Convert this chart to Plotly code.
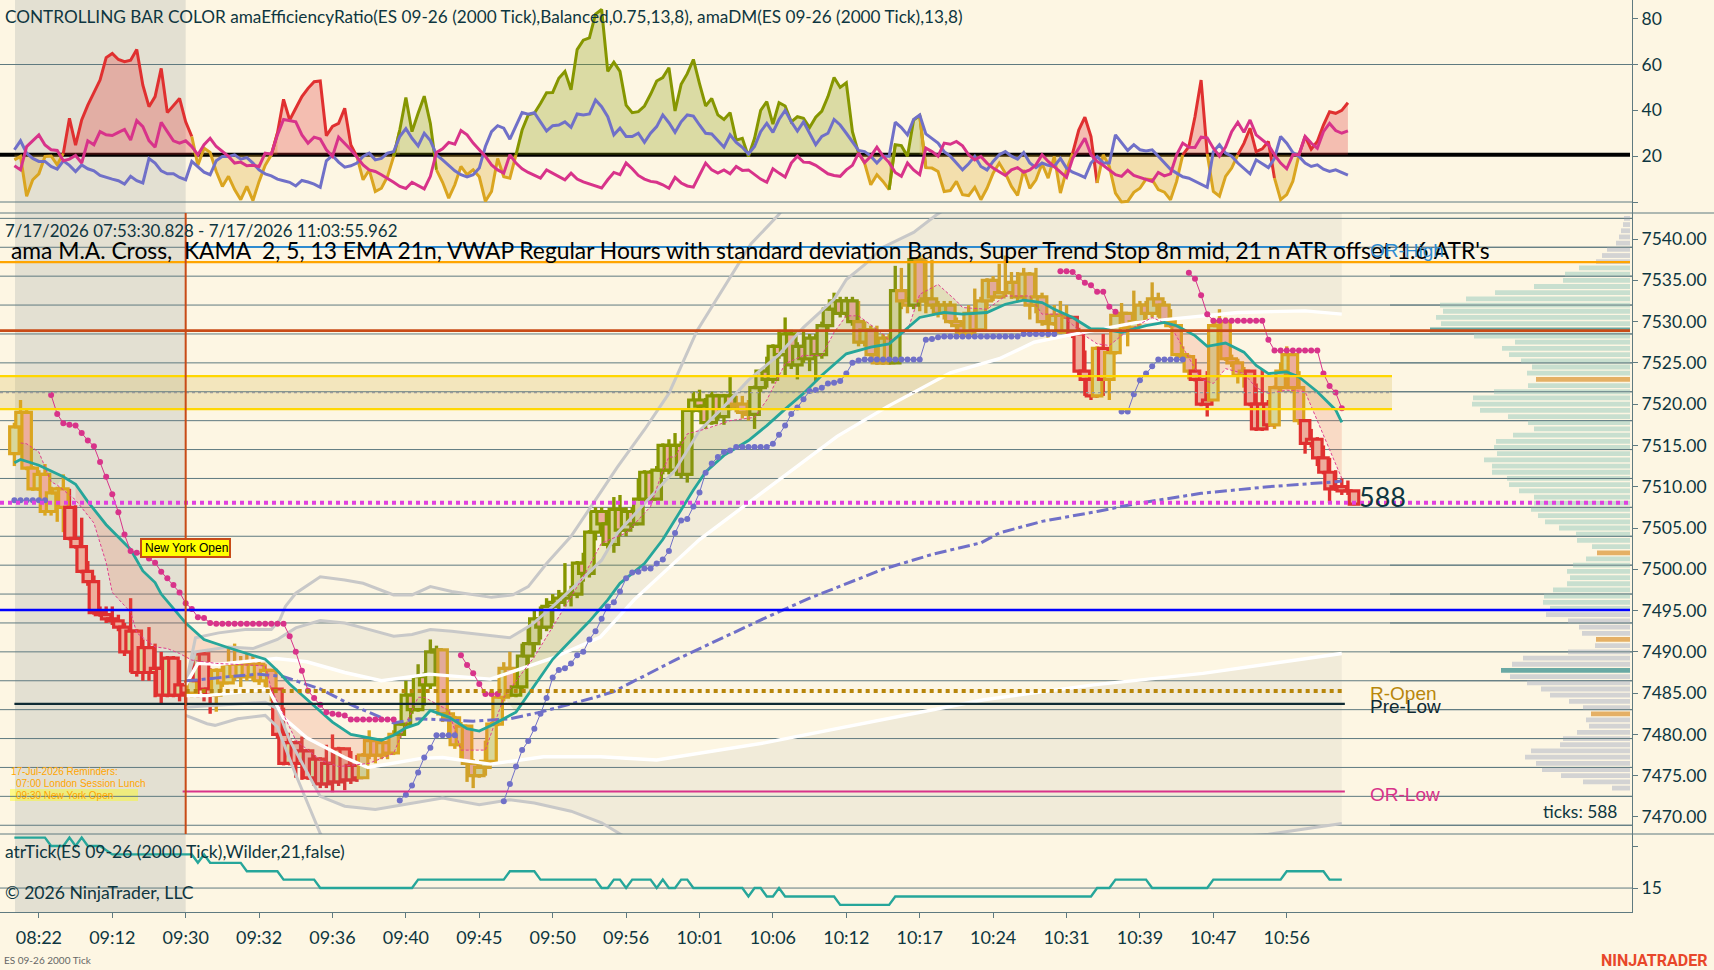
import plotly.graph_objects as go

# bar positions on the time axis
TICK_POS = [4, 16, 28, 40, 52, 64, 76, 88, 100, 112, 124, 136, 148, 160, 172, 184, 196, 208]
TICK_LABELS = ["08:22", "09:12", "09:30", "09:32", "09:36", "09:40", "09:45", "09:50", "09:56",
               "10:01", "10:06", "10:12", "10:17", "10:24", "10:31", "10:39", "10:47", "10:56"]

# candles
CLOSE = [7517.25, 7519, 7512.25, 7509.75, 7511.5, 7507, 7509.25, 7509.75, 7507.5, 7503.75,
         7502.75, 7499.75, 7498.5, 7494.75, 7494.5, 7494, 7493.75, 7493, 7490, 7492.5,
         7487.5, 7490.5, 7487.5, 7488, 7484.75, 7489.25, 7484.75, 7486, 7485, 7486.5,
         7489.75, 7485.5, 7484.75, 7487.75, 7486.25, 7488.5, 7487, 7488.5, 7487, 7488.5,
         7486.5, 7487.75, 7485.5, 7480, 7476.5, 7479, 7476.5, 7478, 7474.75, 7477,
         7474, 7476.5, 7474.25, 7478.25, 7474.5, 7476.25, 7474.75, 7477.5, 7479.25, 7477.5,
         7479, 7477.75, 7480, 7481.25, 7484.75, 7483, 7487, 7486, 7490, 7490.25,
         7482.5, 7482, 7478.75, 7481, 7476.5, 7475, 7476, 7476.75, 7481.25, 7484.5,
         7488, 7484.75, 7485.75, 7489.5, 7491, 7494, 7493, 7495.5, 7496, 7496.5,
         7497, 7497, 7500.75, 7499.5, 7504.5, 7507, 7505.5, 7503, 7507.25, 7504.75,
         7507, 7505.5, 7508.5, 7511.75, 7508.5, 7512, 7515, 7512, 7515, 7511.5,
         7519.25, 7520.5, 7519.75, 7517.75, 7521, 7518.5, 7521, 7519.75, 7520, 7519,
         7518.75, 7522, 7524, 7523, 7527, 7526, 7528.5, 7524.75, 7527, 7525.5,
         7528, 7526, 7529.5, 7531.5, 7532.5, 7531, 7532.5, 7530, 7527.5, 7529,
         7526, 7525, 7528, 7525, 7533.75, 7532.5, 7532, 7537.5, 7532.5, 7532.75,
         7532, 7531, 7532, 7530, 7529.5, 7528.5, 7531, 7529, 7532.5, 7535,
         7533, 7533.5, 7533.5, 7534.75, 7533, 7535.75, 7532, 7533, 7530, 7529.75,
         7530.75, 7528.75, 7530.5, 7528.5, 7524, 7523, 7521, 7526.75, 7523, 7526.25,
         7530.75, 7531, 7529.25, 7530, 7532, 7531, 7532.75, 7532, 7530, 7529.5,
         7526, 7525.75, 7524, 7523, 7520, 7520.5, 7529.5, 7530, 7525.5, 7525,
         7523.5, 7524, 7520, 7517, 7520, 7517.5, 7522, 7524, 7526, 7522,
         7518, 7515.25, 7515.75, 7513.5, 7511.75, 7509.75, 7510, 7509.5, 7509.5, 7507.9]
HIGH = [7517.75, 7520.5, 7519.5, 7512.5, 7512, 7512.75, 7510, 7510, 7511.5, 7509.75,
        7507.75, 7506.25, 7501, 7499.25, 7495.5, 7495.5, 7495.5, 7494.5, 7493.5, 7496.5,
        7492.75, 7491.5, 7493, 7491, 7490, 7489.5, 7489.5, 7489, 7486.5, 7487.5,
        7490, 7490, 7488, 7488, 7488.5, 7490.5, 7491, 7489.5, 7489.75, 7489.5,
        7489, 7488.5, 7487.75, 7485.5, 7483.25, 7479.5, 7479.25, 7479.75, 7478.25, 7477.5,
        7477.25, 7478.75, 7480, 7478.5, 7478.25, 7478, 7477.5, 7477.75, 7480.5, 7479.5,
        7479.5, 7479.25, 7480.5, 7481.5, 7486.5, 7485, 7488.5, 7487.5, 7491.5, 7490.75,
        7490.25, 7483, 7482.25, 7481.5, 7481, 7477, 7476.5, 7479.25, 7481.5, 7485,
        7488.75, 7490, 7488, 7491, 7493, 7495, 7495.5, 7496.5, 7497, 7497.5,
        7500.75, 7498, 7501, 7502, 7504.75, 7507.5, 7507.5, 7507, 7508.75, 7509,
        7507.5, 7507.5, 7511, 7512, 7512, 7512.5, 7515.25, 7515.75, 7516.5, 7515.5,
        7519.5, 7521.5, 7521.75, 7520.75, 7521.5, 7521.25, 7521.25, 7523.5, 7521, 7521,
        7520.5, 7522.25, 7524.25, 7525.75, 7527.25, 7529, 7530.5, 7529, 7527.5, 7529,
        7528.5, 7528.5, 7530, 7531.75, 7533.5, 7533, 7533, 7533, 7532.5, 7530,
        7529.5, 7529.5, 7528.5, 7528.5, 7536.75, 7536.5, 7533, 7537.75, 7538, 7537.5,
        7537.5, 7532.5, 7532.5, 7532.5, 7530.5, 7530, 7532, 7534, 7533, 7535.25,
        7535.5, 7537, 7538, 7536, 7536, 7536.5, 7536, 7536.5, 7533.5, 7530.75,
        7532, 7532.5, 7532, 7530.5, 7529.25, 7526.5, 7524, 7527, 7528.5, 7526.5,
        7531, 7532.25, 7531, 7533.75, 7532.5, 7532.5, 7534.75, 7533.5, 7532.5, 7531.5,
        7529.5, 7527, 7526, 7525.5, 7523, 7524, 7530, 7531.5, 7530.5, 7526,
        7525.5, 7524.5, 7524, 7522.5, 7524.25, 7520.5, 7522.25, 7525, 7527, 7526.5,
        7524, 7518, 7517, 7516, 7515, 7513.5, 7512, 7511, 7510.75, 7509.5]
LOW = [7512.5, 7514, 7512, 7509.5, 7509.5, 7506.5, 7506.5, 7505.75, 7504.5, 7503.5,
       7502.5, 7499.5, 7498, 7494.5, 7494.25, 7493.5, 7493.25, 7492.5, 7489.5, 7487.5,
       7487, 7486.5, 7486.5, 7484.5, 7483.75, 7484.5, 7484.5, 7484, 7483, 7484.5,
       7484.5, 7484, 7482.5, 7482.75, 7485.75, 7486.25, 7486.5, 7485.75, 7486.5, 7486.5,
       7486, 7485.75, 7484, 7479.5, 7476.25, 7476.25, 7474.75, 7474.5, 7474.5, 7473.75,
       7473.5, 7473.5, 7473, 7473.75, 7473.25, 7474, 7474.25, 7474.75, 7477, 7476.5,
       7477, 7477, 7477.5, 7479.5, 7481, 7482.5, 7482.75, 7483.5, 7485.5, 7487,
       7481.5, 7479.5, 7478.25, 7477, 7474.25, 7473.5, 7474.75, 7475, 7476.5, 7481,
       7484, 7484.5, 7484.5, 7485.5, 7488.5, 7490, 7491.5, 7492.5, 7493.5, 7495,
       7495.5, 7495.5, 7496.5, 7498.5, 7499, 7503.5, 7504, 7502.5, 7502, 7504,
       7504, 7505, 7505.5, 7508, 7508, 7508.5, 7511.5, 7511.5, 7511.75, 7511,
       7510.5, 7519, 7519, 7517, 7517.5, 7518, 7517.5, 7519.25, 7519, 7518.25,
       7518, 7517, 7521.5, 7522, 7522.5, 7525.5, 7523.5, 7524.25, 7523, 7525,
       7524, 7522.75, 7525.5, 7529, 7531, 7530.5, 7530.5, 7529.5, 7527, 7527,
       7525.75, 7524.75, 7524.75, 7524.75, 7525, 7531.5, 7531, 7531.5, 7531.25, 7531,
       7531.5, 7530.5, 7530.25, 7529.75, 7528.5, 7528, 7528.25, 7528.5, 7528.75, 7531.5,
       7532.5, 7532.75, 7533, 7532.75, 7532.5, 7532.5, 7530.25, 7531, 7529.5, 7528,
       7529.5, 7528.5, 7528.5, 7528, 7523.5, 7521, 7520.5, 7520.75, 7521, 7520.5,
       7526, 7530, 7527, 7529, 7529.5, 7530.25, 7530.5, 7530.5, 7529.75, 7529.25,
       7525.75, 7525.5, 7523, 7522.75, 7519.75, 7518.5, 7522.5, 7529, 7525.25, 7524.5,
       7522.5, 7522, 7519.75, 7516.75, 7516.75, 7517.25, 7517, 7521.5, 7523.5, 7521.5,
       7517.5, 7514, 7514.75, 7512.5, 7511.5, 7508, 7509.5, 7509, 7509, 7507.75]
FIRST_OPEN = 7514

# (first bar, last bar, controlling colour)
BAR_RUNS = [(0, 8, "g"), (9, 28, "r"), (29, 29, "g"), (30, 32, "r"), (33, 42, "g"), (43, 56, "r"),
            (57, 62, "g"), (63, 69, "o"), (70, 81, "g"), (82, 117, "o"), (118, 120, "g"),
            (121, 137, "o"), (138, 143, "g"), (144, 144, "o"), (145, 146, "g"), (147, 147, "o"),
            (148, 172, "g"), (173, 176, "r"), (177, 177, "g"), (178, 178, "r"), (179, 192, "g"),
            (193, 195, "r"), (196, 201, "g"), (202, 205, "r"), (206, 210, "g"), (211, 219, "r")]

# amaEfficiencyRatio
ER = [18.4, 19.9, 2.5, 9.7, 12.3, 19.9, 20.1, 16.2, 21.3, 36.5, 24.8, 35.8, 42.3, 47.4, 53.2, 63, 64.8, 62.2, 61.2, 61.9,
      66.5, 51, 41.6, 46, 58.3, 39, 42.3, 45.2, 35, 28.6, 16, 23.5, 21.6, 13.3, 6.8, 11.2, 5.4, 1, 6.8, 0.6,
      9, 16, 20.6, 30, 44.8, 35.8, 40.9, 46, 49.6, 52.5, 52.8, 28.9, 33, 34.3, 40.9, 24.9, 19.8, 9.7, 14, 4.6,
      6, 11.2, 19.9, 31.4, 45.6, 30.7, 38.7, 46.2, 34.3, 14, 8.6, 1.7, 7.5, 15.5, 11.9, 14, 11, 0.3, 4.6, 19,
      11, 10.4, 20.6, 31.4, 38, 38.7, 43, 47.7, 47.8, 54, 57, 49, 66.5, 70.6, 71.6, 82, 84, 57, 61, 57,
      42.3, 39, 39.4, 41.9, 47, 52.8, 54.3, 58.6, 39.7, 51.4, 56, 62.2, 51.7, 41.9, 45.2, 38, 36, 39, 27, 27.8,
      19.9, 27.8, 40, 43.8, 34, 43.3, 41.9, 35, 37.2, 36.5, 32.5, 37, 39.7, 46, 54.3, 50, 52, 30.7, 21.3, 16.9,
      7.5, 11.9, 9, 5.4, 25, 24.6, 20, 35.8, 37.7, 15, 14.8, 13.3, 4.6, 5, 9, 3.2, 2.8, 6.4, 1, 6,
      12.6, 17, 12.6, 6.8, 2.9, 14, 6, 9.7, 16.7, 10.4, 19.9, 3.9, 14, 21.3, 31.4, 37, 28.6, 8.3, 20.6, 15.5,
      3.9, 0, 0.3, 4.2, 6, 10, 9.7, 5.4, 4.3, 1, 9, 20.6, 24.2, 37.2, 53.2, 21, 4.6, 2.5, 11.2, 14.8,
      20.6, 25.6, 32.2, 22, 23.2, 26.4, 10.4, 1, 3.2, 9, 20.6, 28.6, 23, 26.4, 33.6, 39.4, 38.7, 40, 43.3]
ER_RUNS = [(0, 8, "g"), (8, 29, "r"), (29, 43, "g"), (42, 56, "r"), (56, 63, "g"), (62, 69, "o"), (69, 82, "g"),
           (82, 138, "o"), (138, 144, "g"), (143, 149, "o"), (148, 173, "g"), (173, 177, "r"), (177, 191, "g"),
           (191, 195, "r"), (195, 200, "g"), (200, 206, "r"), (206, 210, "g"), (210, 218, "r")]
ER_LEVEL = 20.6

# amaDM
DM_PLUS = [22.8, 26.7, 21.3, 19, 17.7, 17.7, 15.5, 14.3, 18, 16, 13.3, 16.2, 14.5, 13.6, 11.6, 10.7, 10, 9.3, 7.8, 11.2,
           9.3, 8.3, 19, 17, 13.6, 12.3, 12.3, 10.7, 9.7, 17.7, 15.5, 13, 11.9, 18, 19.9, 19.9, 20.6, 18.7, 19.4, 17,
           14, 12.3, 11.4, 10, 9.3, 8.6, 7, 9.4, 8.7, 7.8, 6.4, 18, 20.3, 17.4, 15.2, 15.8, 17, 19.9, 21.3, 18.4,
           19, 21.3, 22, 28.6, 32, 27.8, 24.5, 30, 26.8, 20.6, 18.4, 16, 13.6, 11.9, 10.9, 11.9, 14.8, 24.2, 30.7, 33.3,
           32.2, 27.4, 32.9, 39, 38.3, 39, 35, 31, 33.3, 33.6, 35, 32.6, 38.4, 38, 38.4, 44.5, 41.6, 37.2, 29.3, 32.2,
           28.6, 28.6, 30, 26, 30, 32.9, 38, 34.6, 30.4, 35, 38, 37.5, 33.6, 30, 29.7, 27, 23.9, 29.3, 26, 23.9,
           21, 24.2, 30.7, 34.3, 30.4, 36, 40, 35, 31, 35, 30, 25, 28.6, 30, 36, 33.6, 30, 26.4, 22.5, 22,
           20, 17, 20, 20, 34.8, 32.5, 29.3, 36, 38, 29.7, 27.8, 25.7, 22, 20, 17, 14, 16.7, 19.9, 15.5, 14,
           17.7, 20.6, 22, 20, 18.7, 21.6, 17, 15, 17, 16, 15.5, 19, 14.8, 13, 11.9, 10.7, 17, 19.9, 17, 17,
           29.3, 25.7, 22.5, 25, 22.8, 22.3, 22.8, 20, 17, 14.3, 12.6, 11, 10.4, 9, 7.5, 6.4, 22, 25, 21.3, 20,
           17, 14.8, 12.3, 18.4, 16.5, 15, 19, 28.6, 25.7, 21.6, 19.9, 17, 15.5, 16.2, 14.3, 13.3, 14, 13, 11.7]
DM_MINUS = [15.8, 14, 24.2, 26.8, 29.3, 24.9, 22.8, 22.5, 18, 18.7, 20.3, 17, 26.7, 25, 30.7, 29.3, 29, 30.4, 31.7, 27,
            35.5, 32.9, 26.8, 23.9, 34.8, 30.7, 26.7, 25.7, 26.7, 24.2, 20.6, 25, 27.8, 24.2, 22, 19.9, 17, 17.4, 15.8, 16,
            15.5, 21.3, 20.9, 29.3, 36, 35.4, 35, 29.3, 25.7, 28.3, 27.5, 22.8, 19.9, 28.3, 25.7, 22.8, 19.6, 16.2, 14, 13.3,
            11.9, 10.4, 8.6, 6.8, 5.9, 8.6, 7.2, 5.7, 11.2, 21.6, 23.2, 26, 25.2, 31.2, 29.3, 25.7, 22.8, 19.9, 16.2, 14,
            12.6, 20.6, 17, 14.5, 12.9, 11.6, 10.4, 14, 12.6, 11.2, 9.7, 12.6, 10, 8.8, 8, 7.1, 6.1, 9.7, 12.9, 11.9,
            17, 14.5, 11.6, 10, 9, 8.6, 7.5, 6, 10.7, 8.3, 7, 6.5, 11.9, 17, 14, 12.6, 14, 12.3, 15.5, 13.8,
            14, 11.9, 10, 8.6, 14.5, 12.6, 10.9, 17, 20, 17.4, 17.2, 16, 14, 12.3, 11.6, 11.2, 14, 16, 21.3, 17.2,
            19.9, 23.9, 20, 17.2, 12.9, 11.2, 17, 14, 11.9, 23.5, 22, 20, 25.7, 25.2, 26.4, 24.5, 20.6, 18.4, 19.9, 17,
            14.8, 13.3, 11.6, 14, 15, 13, 14, 16.2, 20.6, 17.7, 15.5, 13, 10.7, 19, 23.5, 27.8, 20.6, 17.7, 16, 14,
            11.9, 11.2, 13.8, 11.6, 10.7, 9.7, 9, 12.9, 11.4, 12.3, 20.6, 25.7, 23.9, 23.8, 28.3, 28, 23.5, 20, 24, 30.7,
            34.8, 30.4, 35.8, 29.3, 27, 25, 20.6, 17, 14.5, 20.6, 20.6, 28.6, 25.7, 23.5, 30.7, 34.3, 31.2, 30, 31]

# atrTick
ATR_X = [0, 5, 6, 8, 9, 10, 11, 12, 14, 16, 29, 30, 31, 32, 37, 38, 43, 44, 49, 50, 65, 66, 80, 81, 85, 86, 95, 96, 97,
         98, 99, 100, 101, 104, 105, 106, 107, 108, 109, 110, 111, 119, 120, 121, 122, 123, 124, 125, 126, 134, 135,
         143, 144, 176, 177, 179, 180, 185, 186, 195, 196, 207, 208, 214, 215, 217]
ATR_Y = [16.2, 16.2, 16, 16, 16.2, 16, 16.2, 16, 16, 15.8, 15.8, 15.6, 15.8, 15.6, 15.6, 15.4, 15.4, 15.2, 15.2, 15, 15, 15.2,
         15.2, 15.4, 15.4, 15.2, 15.2, 15, 15, 15.2, 15.2, 15, 15.2, 15.2, 15, 15.2, 15, 15, 15.2, 15.2, 15, 15, 14.8, 15, 15,
         14.8, 14.8, 15, 14.8, 14.8, 14.6, 14.6, 14.8, 14.8, 15, 15, 15.2, 15.2, 15, 15, 15.2, 15.2, 15.4, 15.4, 15.2, 15.2]

# EMA 21
EMA_X = [0, 1, 4, 8, 10, 12, 15, 19, 21, 23, 24, 28, 31, 35, 41, 43, 45, 48, 52, 55, 60, 62, 64, 66, 68, 71, 74, 76, 78, 82, 85,
         88, 91, 94, 97, 99, 103, 106, 108, 111, 113, 116, 120, 123, 126, 129, 132, 136, 140, 143, 148, 152, 155, 159,
         162, 165, 168, 170, 173, 176, 178, 181, 185, 188, 190, 193, 195, 198, 201, 203, 205, 208, 210, 213, 216, 217]
EMA_Y = [7512.9, 7513.3, 7512.6, 7511.2, 7510.3, 7508.2, 7505.4, 7502.4, 7499.8, 7498.4, 7497, 7493.5, 7491.5, 7490.5, 7489.1,
         7487.7, 7486.1, 7484.1, 7481.5, 7480, 7479.3, 7479.9, 7480.8, 7481.3, 7482.9, 7482.1, 7480.7, 7480.4, 7481.1,
         7482.7, 7485.9, 7489.1, 7491.4, 7493.7, 7496.3, 7498.3, 7500.7, 7503.6, 7506, 7509.6, 7511.8, 7513.8, 7515.6,
         7517.4, 7519.4, 7521.3, 7523.5, 7526.1, 7526.9, 7527.3, 7530.5, 7531.1, 7530.9, 7531.1, 7532.1, 7532.6, 7532.3,
         7531.5, 7530.5, 7529.1, 7529.1, 7528.7, 7529.5, 7529.9, 7529.5, 7528.3, 7527, 7527.4, 7526.3, 7524.7, 7523.7,
         7523.9, 7523.3, 7521.5, 7519.3, 7517.8]

# KAMA 2,5,13
KAMA_X = [1, 2, 4, 6, 7, 10, 13, 15, 16, 19, 20, 23, 25, 27, 29, 33, 41, 42, 46, 50, 53, 58, 62, 64, 66, 67, 71, 73, 77, 80, 85,
          93, 96, 100, 104, 106, 107, 108, 110, 113, 117, 121, 123, 126, 129, 132, 134, 136, 138, 142, 143, 146, 148, 151,
          154, 155, 159, 162, 166, 168, 171, 175, 177, 179, 182, 186, 189, 192, 194, 196, 198, 201, 203, 205, 208, 211, 213,
          216, 217]
KAMA_Y = [7515.3, 7515.2, 7514.2, 7510.6, 7510.2, 7508.4, 7505.6, 7500.8, 7497.2, 7494.8, 7492.3, 7490.6, 7490.4, 7489.8, 7489,
          7488.6, 7488.3, 7485.5, 7479.3, 7476.9, 7476.1, 7476.5, 7477.7, 7481.3, 7484.5, 7484.5, 7482.9, 7478.1, 7478.1,
          7484.5, 7489.4, 7499.1, 7503.2, 7504.4, 7507.6, 7512, 7513.6, 7513.6, 7516.4, 7517, 7518, 7518.4, 7520.5, 7524.9,
          7525.9, 7525.9, 7528.7, 7530.7, 7530.7, 7528.5, 7527.7, 7528.9, 7533.3, 7534.5, 7532.5, 7531.7, 7531.5, 7533.1,
          7533.1, 7530.9, 7530.9, 7528.3, 7527.3, 7527.1, 7528.9, 7530.5, 7529.5, 7525.7, 7523, 7522.5, 7524.3, 7523.7,
          7522, 7521.3, 7521.7, 7521.5, 7518, 7512.8, 7511]
# stretches of the EMA/KAMA cloud
CLOUD_RUNS = [(1, 9, "o"), (9, 64, "r"), (64, 71, "o"), (71, 79, "r"), (79, 168, "o"), (168, 217, "r")]

# VWAP and its bands
VWAP_X = [28, 30, 35, 40, 44, 50, 55, 62, 66, 75, 81, 86, 95, 98, 108, 123, 130, 135, 142, 150, 158, 161, 168, 177, 183, 194, 205, 216, 217]
VWAP_Y = [7486.5, 7486.6, 7487, 7487.3, 7487, 7485.5, 7483.6, 7481.4, 7481.9, 7481.6, 7481.9, 7482.7, 7484.5, 7485.2, 7489, 7494.2,
          7496.5, 7498, 7500, 7501.8, 7503.2, 7504.4, 7505.8, 7507, 7507.9, 7509.2, 7510, 7510.6, 7510.7]
U3_X = [28, 29.6, 33.4, 37.7, 42, 43.4, 44.3, 46, 50, 54, 57, 62, 65, 68, 71.5, 78, 81.5, 84, 87, 91, 95, 98.6, 103, 107, 111.6, 117, 120.4, 125, 127]
U3_Y = [7486, 7491.7, 7492.3, 7492.7, 7492.7, 7493.9, 7495.5, 7497.1, 7499.1, 7498.7, 7498.3, 7496.9, 7496.9, 7497.9, 7497.3, 7496.6, 7496.9,
        7497.9, 7500.7, 7504, 7508.4, 7512.4, 7516.9, 7521.3, 7528.9, 7535.3, 7539.4, 7543, 7545]
U2_X = [28, 29.6, 35, 39, 43, 46, 50, 54, 57, 62, 65, 68, 71.5, 78, 81, 84.6, 88, 91.5, 96, 98.6, 104, 108, 112, 116, 120, 125, 129, 134, 136, 139, 142, 147, 150.7, 153, 170, 217]
U2_Y = [7486, 7490, 7490.6, 7490.4, 7491.5, 7492.9, 7493.8, 7493.5, 7492.9, 7491.9, 7492.1, 7492.7, 7492.5, 7491.9, 7491.7, 7493.3, 7495.5, 7497.9, 7501.1,
        7504.4, 7508.8, 7512, 7516.8, 7519.7, 7522.9, 7526, 7529.3, 7532.7, 7535.1, 7536.9, 7539, 7540.8, 7542.9, 7544, 7548, 7552]
U1_X = [28, 30, 33.4, 37.8, 42.8, 47.8, 54, 60, 67.8, 77.8, 82.8, 87.8, 95.8, 101.3, 112, 125.8, 134.5, 142.7, 153, 161, 166.7, 172, 178, 183.5, 189, 194, 200, 205.6, 211, 217]
U1_Y = [7486, 7488.6, 7488.5, 7488.8, 7489.2, 7488.8, 7487.5, 7486.5, 7487.3, 7486.7, 7487.9, 7489.2, 7491.8, 7496.3, 7503.6, 7511.2, 7516.1, 7519.7, 7523.8,
        7525.5, 7527.5, 7528.3, 7529.1, 7529.9, 7530.3, 7530.7, 7531.1, 7531.2, 7531.3, 7530.9]
L1_X = [28, 31.5, 36.5, 41.5, 44, 47.8, 54, 57.8, 66.5, 70, 77.8, 86.5, 95.8, 105, 122.8, 140.7, 158.5, 176.4, 194.3, 217]
L1_Y = [7484.7, 7484.7, 7485.1, 7485.5, 7482, 7479.6, 7477.2, 7476, 7477.1, 7477.2, 7476.4, 7477.3, 7477.3, 7476.9, 7479, 7481.6, 7484.2, 7486, 7487.4, 7489.8]
L2_X = [28, 32.8, 41, 43, 45, 50, 54, 59, 65, 70, 76, 81, 85, 91, 96, 100, 130, 170, 205, 217]
L2_Y = [7483.3, 7483.5, 7483.9, 7483.1, 7479.3, 7472.5, 7471.3, 7470.9, 7471.7, 7472.3, 7471.5, 7472.1, 7471.7, 7470.7, 7469.3, 7467.5, 7464, 7466, 7467.9, 7469.2]
L3_X = [28, 31.5, 32.8, 36.5, 41, 43, 45.9, 50, 52]
L3_Y = [7482.3, 7481.3, 7481.1, 7481.9, 7482.3, 7480.9, 7475.3, 7468, 7466]

# super trend stops, None breaks the line
STOP_DOWN_X = list(range(6, 63)) + [None] + list(range(73, 80)) + [None] + list(range(171, 181)) + [None] + list(range(192, 218))
STOP_DOWN_Y = [7521.1, 7518.8, 7517.7, 7517.5, 7517.4, 7516.5, 7515.6, 7514.9, 7513, 7511.2,
               7509.1, 7506.9, 7504.2, 7502.2, 7502, 7501.8, 7501.3, 7500.8, 7499.7, 7498.9,
               7498.1, 7497.2, 7495.9, 7495.2, 7494.2, 7494.1, 7493.5, 7493.4, 7493.4, 7493.4,
               7493.4, 7493.4, 7493.4, 7493.4, 7493.4, 7493.4, 7493.4, 7493.4, 7493.4, 7491.9,
               7490, 7487.7, 7485.3, 7484.4, 7483.6, 7482.7, 7482.5, 7482.4, 7482.3, 7481.8,
               7481.8, 7481.8, 7481.8, 7481.8, 7481.8, 7481.8, 7481.8, None,
               7489.6, 7488.4, 7487.4, 7486.1, 7484.9, 7484.9, 7484.9, None,
               7536.1, 7536.1, 7536, 7535.4, 7534.7, 7534.4, 7533.6, 7533.6, 7531.8, 7531.2, None,
               7535.9, 7535.2, 7533.2, 7530.9, 7530.1, 7530.1, 7530.1, 7530.1, 7530.1, 7530.1,
               7530.1, 7530.1, 7530.1, 7527.8, 7526.5, 7526.5, 7526.5, 7526.5, 7526.5, 7526.5,
               7526.5, 7526.5, 7523.7, 7522.2, 7521.4, 7519.5]
STOP_UP_X = list(range(0, 6)) + [None] + list(range(63, 73)) + [None] + list(range(80, 171)) + [None] + list(range(181, 192))
STOP_UP_Y = [7508.35, 7508.35, 7508.35, 7508.35, 7508.35, 7508.35, None,
             7472, 7472.7, 7473.8, 7475.4, 7477.2, 7478.4, 7479.9, 7479.9, 7479.9, 7479.9, None,
             7471.9, 7474, 7476.1, 7478.1, 7479.2, 7480.7, 7482.5, 7484.4, 7486.9, 7487.8,
             7488, 7488.6, 7489.6, 7490, 7491.5, 7492.5, 7494, 7495.5, 7496, 7497.3,
             7498.9, 7499.6, 7499.7, 7500.1, 7500.1, 7500.7, 7501.2, 7502.2, 7504.4, 7505.9,
             7506.1, 7507.6, 7509.3, 7511.7, 7512.8, 7513.6, 7514.2, 7514.4, 7514.8, 7514.8,
             7514.8, 7514.8, 7514.8, 7514.8, 7515.2, 7516.3, 7517.4, 7518.8, 7519.6, 7520.6,
             7521.6, 7521.7, 7522, 7522.5, 7522.6, 7522.8, 7523.7, 7525, 7525.3, 7525.4,
             7525.4, 7525.4, 7525.4, 7525.4, 7525.4, 7525.4, 7525.4, 7525.4, 7525.4, 7527.8,
             7527.9, 7528.1, 7528.2, 7528.2, 7528.2, 7528.2, 7528.2, 7528.2, 7528.2, 7528.2,
             7528.2, 7528.2, 7528.2, 7528.2, 7528.2, 7528.5, 7528.5, 7528.5, 7528.5, 7528.5,
             7528.5, None,
             7519.1, 7519.1, 7521.2, 7522.9, 7523.7, 7524.6, 7525.4, 7525.4, 7525.4, 7525.4, 7525.4]

# volume profile
PROFILE_PRICE = [7542.5, 7541.75, 7541, 7540.25, 7539.5, 7538.75, 7538, 7537.25, 7536.5, 7535.75, 7535, 7534.25, 7533.5,
                 7532.75, 7532, 7531.25, 7530.5, 7529.75, 7529, 7528.25, 7527.5, 7526.75, 7526, 7525.25, 7524.5, 7523.75,
                 7523, 7522.25, 7521.5, 7520.75, 7520, 7519.25, 7518.5, 7517.75, 7517, 7516.25, 7515.5, 7514.75, 7514,
                 7513.25, 7512.5, 7511.75, 7511, 7510.25, 7509.5, 7508.75, 7508, 7507.25, 7506.5, 7505.75, 7505, 7504.25,
                 7503.5, 7502.75, 7502, 7501.25, 7500.5, 7499.75, 7499, 7498.25, 7497.5, 7496.75, 7496, 7495.25, 7494.5,
                 7493.75, 7493, 7492.25, 7491.5, 7490.75, 7490, 7489.25, 7488.5, 7487.75, 7487, 7486.25, 7485.5, 7484.75,
                 7484, 7483.25, 7482.5, 7481.75, 7481, 7480.25, 7479.5, 7478.75, 7478, 7477.25, 7476.5, 7475.75, 7475,
                 7474.25, 7473.5]
PROFILE_VOL = [18, 21, 27, 33, 42, 69, 84, 102, 153, 195, 201, 288, 405, 492, 570, 561, 582, 567, 600, 468,
               345, 384, 363, 327, 294, 309, 282, 306, 408, 471, 474, 450, 366, 306, 288, 351, 402, 408, 399, 438,
               414, 414, 369, 363, 333, 288, 288, 297, 276, 255, 213, 162, 159, 114, 99, 132, 171, 189, 180, 189,
               231, 258, 261, 240, 252, 186, 153, 144, 102, 105, 186, 321, 354, 387, 360, 309, 267, 240, 183, 141,
               117, 132, 123, 159, 201, 210, 297, 315, 282, 264, 207, 141, 54]
PROFILE_VALUE_AREA = (8, 63)
PROFILE_HIGHLIGHT = [26, 54, 68, 80]
PROFILE_POC = [18, 73]

# price levels
OR_HIGH = 7539.03
ASIA_HIGH = 7537.2
RED_LEVEL = 7528.9
ZONE_TOP = 7523.4
ZONE_BOTTOM = 7519.4
ZONE_MID = 7521.4
LAST_PRICE = 7508.06
BLUE_LEVEL = 7495.07
R_OPEN = 7485.26
PRE_LOW = 7483.7
OR_LOW = 7473.1
GRID_LEVELS = [7542.5, 7539, 7535.5, 7532, 7528.5, 7525, 7521.5, 7518, 7514.5, 7511, 7507.5, 7504, 7500.5, 7497, 7493.5,
               7490, 7486.5, 7483, 7479.5, 7476, 7472.5, 7469]

BG = "#FDF6E3"
GRID = "#5F7A80"
INK = "#0E3640"
RED = "#E03030"
GOLD = "#DAA520"
OLIVE = "#869600"
BLUE = "#7070C8"
MAGENTA = "#D8338A"
TEAL = "#26A69A"
EDGE = {"r": RED, "g": GOLD, "o": OLIVE}
ER_FILL = {"r": "rgba(224,48,48,0.28)", "g": "rgba(218,165,32,0.28)", "o": "rgba(134,150,0,0.28)"}
CLOUD_FILL = {"r": "rgba(235,110,80,0.2)", "o": "rgba(134,150,0,0.14)"}
BAND_FILL = "rgba(140,140,140,0.1)"

# plot area in window pixels
PLOT_W = 1632
PLOT_H = 912
BAR_PX = 6.117
BAR0_PX = 14.4


def px(x):
    return x / PLOT_W


def py(y):
    return (PLOT_H - y) / PLOT_H


def note(text, x, y, size, color, family="Lato", **kw):
    # annotations carry a small inner padding, hence the -2
    return dict(text=text, x=px(x - 2), y=py(y), xref="paper", yref="paper", xanchor="left", yanchor="middle",
                showarrow=False, font=dict(family=family, size=size, color=color), **kw)


def level(y, x0, x1, color, width, dash="solid", layer="above"):
    return dict(type="line", xref="x", yref="y2", x0=x0, x1=x1, y0=y, y1=y, layer=layer,
                line=dict(color=color, width=width, dash=dash))


def polygon(x1, y1, x2, y2, color, yaxis="y2"):
    return go.Scatter(x=list(x1) + list(x2)[::-1], y=list(y1) + list(y2)[::-1], mode="lines", fill="toself",
                      fillcolor=color, line=dict(width=0), yaxis=yaxis, hoverinfo="skip")


def line(x, y, color, width, yaxis="y2", dash="solid", shape="linear"):
    return go.Scatter(x=x, y=y, mode="lines", line=dict(color=color, width=width, dash=dash, shape=shape),
                      yaxis=yaxis, hoverinfo="skip")


def inside(xs, ys, a, b):
    pts = [(x, y) for x, y in zip(xs, ys) if a <= x <= b]
    return [p[0] for p in pts], [p[1] for p in pts]


fig = go.Figure()

bars = list(range(len(CLOSE)))
opens = [FIRST_OPEN] + CLOSE[:-1]
edges = [None] * len(CLOSE)
for a, b, c in BAR_RUNS:
    for i in range(a, b + 1):
        edges[i] = EDGE[c]
fills = ["#D8D79A" if c >= o else "#EDAE9C" for o, c in zip(opens, CLOSE)]

# profile first, it sits behind everything
right_edge = (1630 - BAR0_PX) / BAR_PX
prof_colors = []
for k in range(len(PROFILE_VOL)):
    if k in PROFILE_POC:
        prof_colors.append("#6AA9A4")
    elif k in PROFILE_HIGHLIGHT:
        prof_colors.append("#E5B065")
    elif PROFILE_VALUE_AREA[0] <= k <= PROFILE_VALUE_AREA[1]:
        prof_colors.append("#C8DFCF")
    else:
        prof_colors.append("#D3D3D3")
fig.add_trace(go.Bar(y=PROFILE_PRICE, x=[-v / (3 * BAR_PX) for v in PROFILE_VOL], base=right_edge, orientation="h",
                     width=0.58, marker=dict(color=prof_colors, line=dict(width=0)), yaxis="y2", hoverinfo="skip"))

# wicks then bodies
fig.add_trace(go.Bar(x=bars, y=[h - l for h, l in zip(HIGH, LOW)], base=LOW, width=0.55,
                     marker=dict(color=edges, line=dict(width=0)), yaxis="y2", hoverinfo="skip"))
fig.add_trace(go.Bar(x=bars, y=[abs(c - o) for o, c in zip(opens, CLOSE)], base=[min(o, c) for o, c in zip(opens, CLOSE)],
                     width=1.55, marker=dict(color=fills, line=dict(color=edges, width=3.2)), yaxis="y2", hoverinfo="skip"))

# top panel
for a, b, c in ER_RUNS:
    xs = bars[a:b + 1]
    ys = ER[a:b + 1]
    fig.add_trace(polygon(xs, ys, xs, [ER_LEVEL] * len(xs), ER_FILL[c], yaxis="y"))
    fig.add_trace(line(xs, ys, EDGE[c], 3, yaxis="y"))
fig.add_trace(line(bars[:len(DM_PLUS)], DM_PLUS, BLUE, 3, yaxis="y"))
fig.add_trace(line(bars[:len(DM_MINUS)], DM_MINUS, MAGENTA, 3, yaxis="y"))

# bands
fig.add_trace(polygon(U1_X, U1_Y, U2_X, U2_Y, BAND_FILL))
fig.add_trace(polygon(L1_X, L1_Y, L2_X, L2_Y, BAND_FILL))

# EMA / KAMA cloud
for a, b, c in CLOUD_RUNS:
    ex, ey = inside(EMA_X, EMA_Y, a, b)
    kx, ky = inside(KAMA_X, KAMA_Y, a, b)
    fig.add_trace(polygon(ex, ey, kx, ky, CLOUD_FILL[c]))

fig.add_trace(line(U3_X, U3_Y, "#C8C8C8", 3))
fig.add_trace(line(U2_X, U2_Y, "#C8C8C8", 3))
fig.add_trace(line(L2_X, L2_Y, "#C8C8C8", 3))
fig.add_trace(line(L3_X, L3_Y, "#C8C8C8", 3))
fig.add_trace(line(U1_X, U1_Y, "#FFFFFF", 3.4))
fig.add_trace(line(L1_X, L1_Y, "#FFFFFF", 3.4))
fig.add_trace(line(VWAP_X, VWAP_Y, BLUE, 3, dash="12px,4px,4px,4px"))
fig.add_trace(line(KAMA_X, KAMA_Y, "#E0408F", 1, dash="3px,2px"))
fig.add_trace(line(EMA_X, EMA_Y, TEAL, 2.8))
fig.add_trace(go.Scatter(x=STOP_DOWN_X, y=STOP_DOWN_Y, mode="lines+markers", line=dict(color=MAGENTA, width=1),
                         marker=dict(color=MAGENTA, size=6), yaxis="y2", hoverinfo="skip"))
fig.add_trace(go.Scatter(x=STOP_UP_X, y=STOP_UP_Y, mode="lines+markers", line=dict(color=BLUE, width=1),
                         marker=dict(color=BLUE, size=6), yaxis="y2", hoverinfo="skip"))

# atr panel
fig.add_trace(line(ATR_X, ATR_Y, TEAL, 2.4, yaxis="y3"))

x_left = -BAR0_PX / BAR_PX
x_right = (PLOT_W - BAR0_PX) / BAR_PX
zone_end = (1392 - BAR0_PX) / BAR_PX
shapes = [
    dict(type="rect", xref="x", yref="paper", x0=0.1, x1=28, y0=0, y1=1, layer="below",
         fillcolor="#E3E0D2", line=dict(width=0)),
    dict(type="rect", xref="x", yref="y2", x0=x_left, x1=zone_end, y0=ZONE_BOTTOM, y1=ZONE_TOP, layer="below",
         fillcolor="rgba(218,190,90,0.27)", line=dict(width=0)),
]
for lv in GRID_LEVELS:
    shapes.append(level(lv, x_left, x_right, GRID, 1, layer="below"))
    shapes.append(level(lv, (1390 - BAR0_PX) / BAR_PX, x_right, GRID, 1))
for v in [60, 0]:
    shapes.append(dict(type="line", xref="x", yref="y", x0=x_left, x1=x_right, y0=v, y1=v, layer="below",
                       line=dict(color=GRID, width=1)))
shapes.append(dict(type="line", xref="x", yref="y", x0=x_left, x1=right_edge, y0=ER_LEVEL, y1=ER_LEVEL, layer="below",
                   line=dict(color="#000000", width=4)))
shapes.append(dict(type="line", xref="x", yref="y3", x0=x_left, x1=x_right, y0=15, y1=15, layer="below",
                   line=dict(color=GRID, width=1)))
for y in [213, 834]:
    shapes.append(dict(type="line", xref="paper", yref="paper", x0=0, x1=1714 / PLOT_W, y0=py(y), y1=py(y),
                       line=dict(color=GRID, width=1)))

shapes += [
    level(OR_HIGH, 28, 217.5, "#2E8BD0", 2.2),
    level(ASIA_HIGH, x_left, right_edge, "#FFA500", 2.2),
    level(RED_LEVEL, x_left, right_edge, "#C84B17", 2.6),
    level(ZONE_TOP, x_left, zone_end, "#FFD700", 2.2),
    level(ZONE_BOTTOM, x_left, zone_end, "#FFD700", 2.2),
    level(ZONE_MID, x_left, zone_end, "#9A9A9A", 1.4, dash="dot"),
    level(LAST_PRICE, x_left, right_edge, "#E040E0", 4, dash="4px,4px"),
    level(BLUE_LEVEL, x_left, right_edge, "#0000FF", 2.4),
    level(R_OPEN, 28, 217.5, "#B8860B", 4, dash="4px,4px"),
    level(PRE_LOW, 0, 217.5, "#0F2A33", 2.2),
    level(OR_LOW, 27.5, 217.5, "#D8338A", 2),
    dict(type="line", xref="x", yref="paper", x0=28, x1=28, y0=py(834), y1=py(213),
         line=dict(color="#C84B17", width=2)),
    dict(type="rect", xref="paper", yref="paper", x0=px(10), x1=px(138), y0=py(801), y1=py(789), layer="below",
         fillcolor="rgba(255,255,0,0.4)", line=dict(width=0)),
    dict(type="rect", xref="paper", yref="paper", x0=px(141), x1=px(230), y0=py(557), y1=py(539),
         fillcolor="#FFFF00", line=dict(color="#C84B17", width=2)),
]

annotations = [
    note("CONTROLLING BAR COLOR amaEfficiencyRatio(ES 09-26 (2000 Tick),Balanced,0.75,13,8), amaDM(ES 09-26 (2000 Tick),13,8)",
         5, 16, 17.2, INK),
    note("7/17/2026 07:53:30.828 - 7/17/2026 11:03:55.962", 5, 231, 16.9, INK),
    note("ama M.A. Cross,  KAMA  2, 5, 13 EMA 21n, VWAP Regular Hours with standard deviation Bands, Super Trend Stop 8n mid, 21 n ATR offset 1.6 ATR's",
         11, 250, 22.8, "#000000"),
    note("atrTick(ES 09-26 (2000 Tick),Wilder,21,false)", 5, 851, 17.5, INK),
    note("© 2026 NinjaTrader, LLC", 5, 892, 17.6, INK),
    note("ES 09-26 2000 Tick", 4, 960, 10, "#666666"),
    note("<b>NINJATRADER</b>", 1601, 960, 16, "#E8472A", family="Roboto"),
    note("ticks: 588", 1543, 811, 17.4, INK),
    note("588", 1359, 497, 27, INK),
    note("OR-High", 1370, 250, 19, "#2E8BD0", family="Liberation Sans"),
    note("R-Open", 1370, 693, 19, "#B8860B", family="Liberation Sans"),
    note("Pre-Low", 1370, 706, 19, "#0F2A33", family="Liberation Sans"),
    note("OR-Low", 1370, 794, 19, "#D8338A", family="Liberation Sans"),
    note("New York Open", 145, 548, 12, "#000000", family="Liberation Sans"),
    note("17-Jul-2026 Reminders:", 11, 771, 10, "#FFA500", family="Liberation Sans"),
    note("07:00 London Session Lunch", 16, 783, 10, "#FFA500", family="Liberation Sans"),
    note("09:30 New York Open", 16, 795, 10, "#FFA500", family="Liberation Sans"),
]

axis_font = dict(family="Lato", size=17.5, color=INK)
fig.update_layout(
    width=1714, height=970, margin=dict(l=0, r=82, t=0, b=58, pad=0),
    paper_bgcolor=BG, plot_bgcolor=BG, showlegend=False, barmode="overlay", hovermode=False,
    shapes=shapes, annotations=annotations,
    xaxis=dict(range=[x_left, x_right], anchor="y3", tickmode="array", tickvals=TICK_POS, ticktext=TICK_LABELS,
               ticks="outside", ticklen=5, tickcolor=GRID, tickfont=dict(family="Lato", size=18, color=INK),
               ticklabelstandoff=4, showgrid=False, zeroline=False, showline=True, linecolor=GRID, linewidth=1),
    yaxis=dict(domain=[py(213), 1], range=[-4.8, 88.15], anchor="x", side="right", tickmode="array",
               tickvals=[0, 20, 40, 60, 80], ticktext=["", "20", "40", "60", "80"], ticks="outside", ticklen=5,
               tickcolor=GRID, tickfont=axis_font, showgrid=False, zeroline=False, showline=True, linecolor=GRID, linewidth=1),
    yaxis2=dict(domain=[py(834), py(213)], range=[7467.94, 7543.15], anchor="x", side="right", tickmode="array",
                tickvals=[7540, 7535, 7530, 7525, 7520, 7515, 7510, 7505, 7500, 7495, 7490, 7485, 7480, 7475, 7470],
                ticktext=["7540.00", "7535.00", "7530.00", "7525.00", "7520.00", "7515.00", "7510.00", "7505.00", "7500.00",
                          "7495.00", "7490.00", "7485.00", "7480.00", "7475.00", "7470.00"],
                ticks="outside", ticklen=5, tickcolor=GRID, tickfont=axis_font, showgrid=False, zeroline=False,
                showline=True, linecolor=GRID, linewidth=1),
    yaxis3=dict(domain=[0, py(834)], range=[14.43, 16.286], anchor="x", side="right", tickmode="array",
                tickvals=[15, 16], ticktext=["15", ""], ticks="outside", ticklen=5, tickcolor=GRID, tickfont=axis_font,
                showgrid=False, zeroline=False, showline=True, linecolor=GRID, linewidth=1),
)

fig.write_html("out.html", config={"displayModeBar": False}, post_script="document.body.style.margin='0';")
